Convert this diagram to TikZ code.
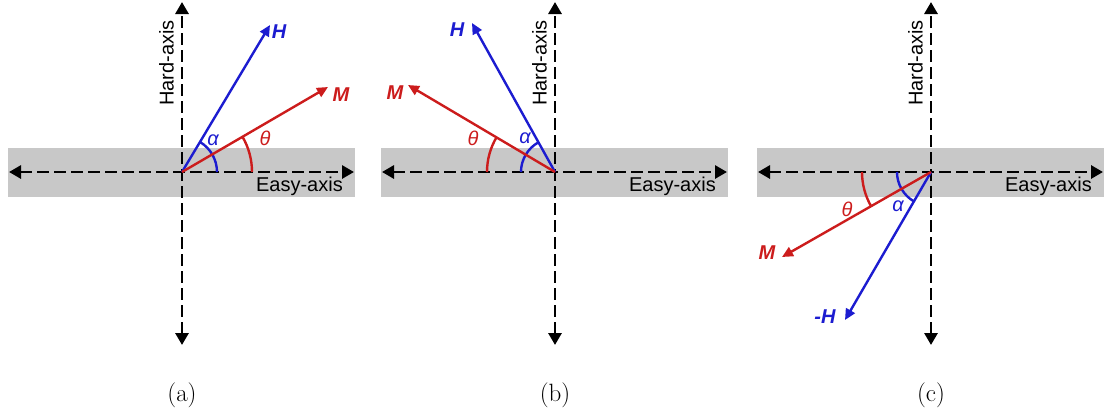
\documentclass[tikz,border=0pt]{standalone}
\usepackage{fontspec}
\newfontfamily\lsans{Liberation Sans}
\usepackage{tikz}
\usetikzlibrary{arrows.meta}
\definecolor{bandgray}{RGB}{200,200,200}
\definecolor{hblue}{RGB}{28,28,208}
\definecolor{mred}{RGB}{204,28,28}

\begin{document}
\begin{tikzpicture}[
  x=1pt, y=1pt,
  font=\lsans\fontsize{20}{22}\selectfont,
  band/.style={fill=bandgray},
  axis/.style={line width=2.9pt, dash pattern=on 12pt off 5pt,
    {Triangle[length=12pt,width=13pt]}-{Triangle[length=12pt,width=13pt]}},
  vec/.style={line width=2.4pt, -{Triangle[length=11pt,width=10pt]}},
  ang/.style={line width=2.4pt},
  vlab/.style={font=\lsans\fontsize{20}{22}\selectfont\bfseries\itshape},
  glab/.style={font=\lsans\fontsize{20}{22}\selectfont\itshape},
  subcap/.style={font=\rmfamily\fontsize{25}{28}\selectfont, anchor=base},
]
  \useasboundingbox (0,0) rectangle (1104,-416);

  % Band, axes and captions of the three panels
  \foreach \p/\x in {a/182, b/555, c/931} {
    \begin{scope}[shift={(\x,-172)}]
      \coordinate (o\p) at (0,0);
      \coordinate (w\p) at (-173,0);
      \coordinate (e\p) at (172,0);
      \coordinate (n\p) at (0,170);
      \coordinate (s\p) at (0,-173);
      \fill[band] (-174,-25) rectangle (173,24);
      \draw[axis] (w\p) -- (e\p);
      \draw[axis] (s\p) -- (n\p);
      \node[anchor=south, rotate=90, inner sep=0pt] (hard\p) at (-8,109) {Hard-axis};
      \node[anchor=base east, inner sep=0pt] (easy\p) at (161,-19) {Easy-axis};
      \node[subcap] (cap\p) at (0,-229) {(\p)};
    \end{scope}
  }

  % (a) field and moment in the first quadrant
  \begin{scope}[shift={(oa)}]
    \coordinate (ha) at (88,147);
    \coordinate (ma) at (146,85);
    \draw[ang, hblue] (35,0) arc (0:59:35);
    \draw[ang, mred] (70,0) arc (0:30:70);
    \draw[vec, hblue] (oa) -- (ha);
    \draw[vec, mred] (oa) -- (ma);
    \node[vlab, hblue] (hla) at (97,140) {H};
    \node[vlab, mred] (mla) at (159,77) {M};
    \node[glab, hblue] (ala) at (31,32) {α};
    \node[glab, mred] (tla) at (83,34) {θ};
  \end{scope}

  % (b) mirrored into the second quadrant
  \begin{scope}[shift={(ob)}]
    \coordinate (hb) at (-83,149);
    \coordinate (mb) at (-147,87);
    \draw[ang, hblue] (-34,0) arc (180:119:34);
    \draw[ang, mred] (-68,0) arc (180:149:68);
    \draw[vec, hblue] (ob) -- (hb);
    \draw[vec, mred] (ob) -- (mb);
    \node[vlab, hblue] (hlb) at (-98,142) {H};
    \node[vlab, mred] (mlb) at (-160,79) {M};
    \node[glab, hblue] (alb) at (-30,34) {α};
    \node[glab, mred] (tlb) at (-82,34) {θ};
  \end{scope}

  % (c) reversed field, third quadrant
  \begin{scope}[shift={(oc)}]
    \coordinate (hc) at (-86,-148);
    \coordinate (mc) at (-149,-85);
    \draw[ang, hblue] (-34,0) arc (180:240:34);
    \draw[ang, mred] (-69,0) arc (180:210:69);
    \draw[vec, hblue] (oc) -- (hc);
    \draw[vec, mred] (oc) -- (mc);
    \node[vlab, hblue] (hlc) at (-106,-145) {-H};
    \node[vlab, mred] (mlc) at (-164,-81) {M};
    \node[glab, hblue] (alc) at (-33,-34) {α};
    \node[glab, mred] (tlc) at (-84,-37) {θ};
  \end{scope}
\end{tikzpicture}
\end{document}
